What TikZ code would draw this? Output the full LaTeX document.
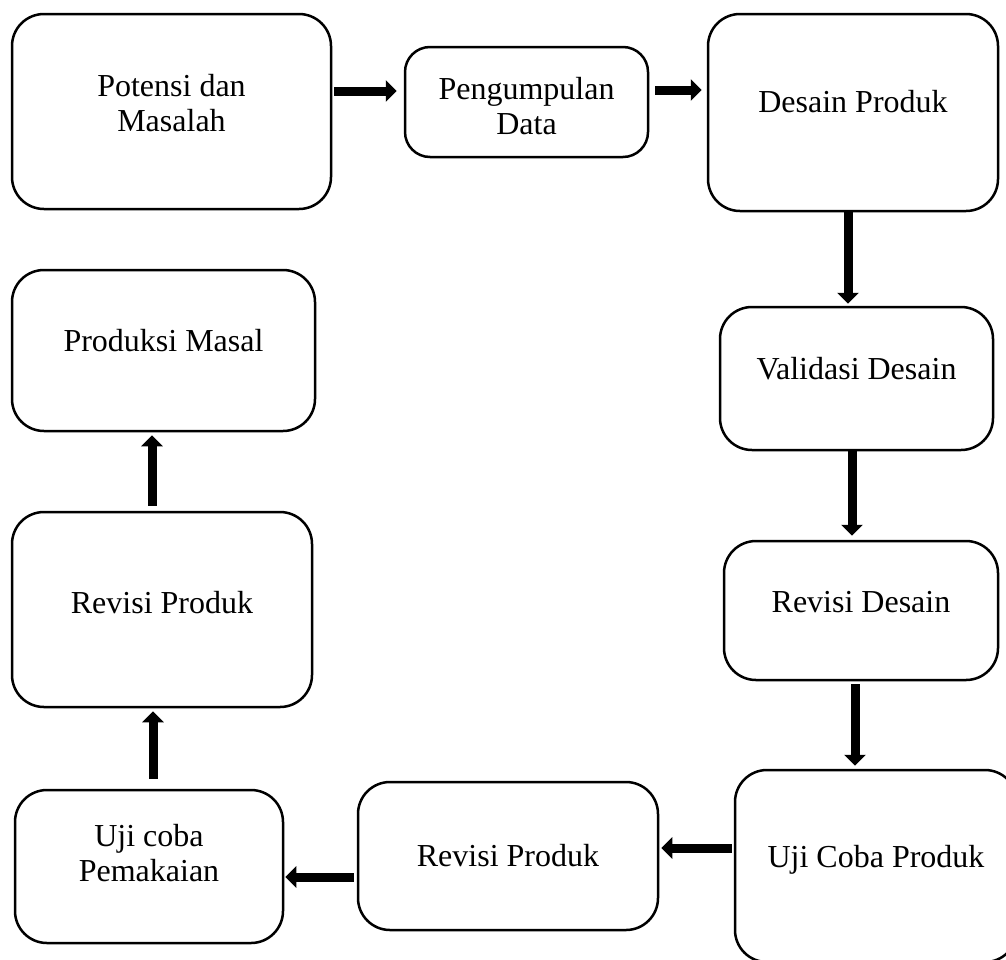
\documentclass[tikz,border=0pt]{standalone}
\usepackage{fontspec}
\setmainfont{Liberation Serif}
\usetikzlibrary{arrows.meta}

\begin{document}
\begin{tikzpicture}[x=1pt, y=-1pt,
		Box/.style={draw, rounded corners=32pt, line width=2.5pt},
		Txt/.style={align=center, inner sep=0pt, font=\fontsize{32}{35}\selectfont},
		Arr/.style={-{Triangle[length=11pt,width=21pt]}, line width=9pt},
		]
	\useasboundingbox (0,0) rectangle (1006,959);
	
	% boxes
	\node[Box, minimum width=319pt, minimum height=195pt] (Potensi) at (171.5,111.5) {};
	\node[Box, rounded corners=25pt, minimum width=243pt, minimum height=110pt] (Pengumpulan) at (526.5,102) {};
	\node[Box, minimum width=290pt, minimum height=197pt] (Desain) at (853,112.5) {};
	\node[Box, minimum width=273pt, minimum height=143pt] (Validasi) at (856.5,378.5) {};
	\node[Box, minimum width=274pt, minimum height=139pt] (RevisiDesain) at (861,610.5) {};
	\node[Box, minimum width=282pt, minimum height=192pt] (UjiProduk) at (876,866) {};
	\node[Box, minimum width=300pt, minimum height=148pt] (RevisiProduk) at (508,856) {};
	\node[Box, minimum width=268pt, minimum height=153pt] (UjiPemakaian) at (149,866.5) {};
	\node[Box, minimum width=300pt, minimum height=195pt] (RevisiProdukDua) at (162,609.5) {};
	\node[Box, minimum width=303pt, minimum height=161pt] (Produksi) at (163.5,350.5) {};
	
	% texts
	\node[Txt] (PotensiTxt) at ([yshift=8.5pt]Potensi.center) {Potensi dan\\Masalah};
	\node[Txt] (PengumpulanTxt) at ([yshift=-4.5pt]Pengumpulan.center) {Pengumpulan\\Data};
	\node[Txt] (DesainTxt) at ([yshift=11pt]Desain.center) {Desain Produk};
	\node[Txt] (ValidasiTxt) at ([yshift=10pt]Validasi.center) {Validasi Desain};
	\node[Txt] (RevisiDesainTxt) at ([yshift=8pt]RevisiDesain.center) {Revisi Desain};
	\node[Txt] (UjiProdukTxt) at ([yshift=6.5pt]UjiProduk.center) {Uji Coba Produk};
	\node[Txt] (RevisiProdukTxt) at ([yshift=0pt]RevisiProduk.center) {Revisi Produk};
	\node[Txt] (UjiPemakaianTxt) at ([yshift=13pt]UjiPemakaian.center) {Uji coba\\Pemakaian};
	\node[Txt] (RevisiProdukDuaTxt) at ([yshift=6.5pt]RevisiProdukDua.center) {Revisi Produk};
	\node[Txt] (ProduksiTxt) at ([yshift=10pt]Produksi.center) {Produksi Masal};
	
	% arrows
	\draw[Arr, shorten <=2pt, shorten >=7pt] ([yshift=20.5pt]Potensi.east) -- ([yshift=11pt]Pengumpulan.west);
	\draw[Arr, shorten <=6pt, shorten >=5pt] ([yshift=12pt]Pengumpulan.east) -- ([yshift=22.5pt]Desain.west);
	\draw[Arr, shorten >=2pt] ([xshift=-5pt]Desain.south) -- ([xshift=-8.5pt]Validasi.north);
	\draw[Arr, shorten >=4pt] ([xshift=-4.5pt]Validasi.south) -- ([xshift=-9pt]RevisiDesain.north);
	\draw[Arr, shorten <=3pt, shorten >=3pt] ([xshift=-6pt]RevisiDesain.south) -- ([xshift=-21pt]UjiProduk.north);
	\draw[Arr, shorten <=2pt, shorten >=2pt] ([yshift=18pt]UjiProduk.west) -- ([yshift=8pt]RevisiProduk.east);
	\draw[Arr, shorten <=3pt, shorten >=1pt] ([yshift=-21pt]RevisiProduk.west) -- ([yshift=-10.5pt]UjiPemakaian.east);
	\draw[Arr, shorten <=10pt, shorten >=3pt] ([xshift=4pt]UjiPemakaian.north) -- ([xshift=-9pt]RevisiProdukDua.south);
	\draw[Arr, shorten <=5pt, shorten >=3pt] ([xshift=-10pt]RevisiProdukDua.north) -- ([xshift=-11.5pt]Produksi.south);
	
\end{tikzpicture}
\end{document}
